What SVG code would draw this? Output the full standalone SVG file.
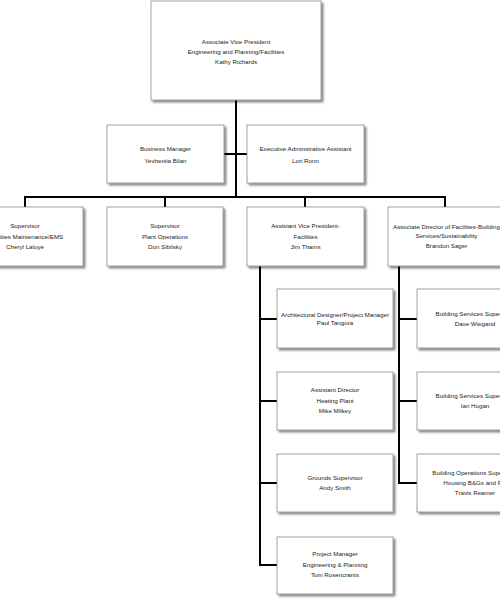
<svg xmlns="http://www.w3.org/2000/svg" width="500" height="600" viewBox="0 0 500 600">
<defs>
<filter id="sh" x="-10%" y="-10%" width="130%" height="130%">
<feGaussianBlur in="SourceAlpha" stdDeviation="0.8"/>
<feOffset dx="1.5" dy="2" result="o"/>
<feComponentTransfer><feFuncA type="linear" slope="0.5"/></feComponentTransfer>
<feMerge><feMergeNode/><feMergeNode in="SourceGraphic"/></feMerge>
</filter>
</defs>
<style>
.box{fill:#fff;stroke:#8a8a8a;stroke-width:0.8;filter:url(#sh)}
.t{font-family:"Liberation Sans",Arial,sans-serif;font-size:6.2px;fill:#222;text-anchor:middle}
.c{stroke:#000;stroke-width:2;fill:none}
</style>
<rect width="500" height="600" fill="#fff"/>
<g id="connectors">
<path class="c" d="M236,100 V197"/>
<path class="c" d="M224,154 H247"/>
<path class="c" d="M25,207 V197 H445 V207"/>
<path class="c" d="M165,197 V207"/>
<path class="c" d="M305,197 V207"/>
<path class="c" d="M260,266 V565 H277"/>
<path class="c" d="M260,319 H277"/>
<path class="c" d="M260,401 H277"/>
<path class="c" d="M260,483 H277"/>
<path class="c" d="M399,266 V483 H417"/>
<path class="c" d="M399,319 H417"/>
<path class="c" d="M399,401 H417"/>
</g>
<g id="avp">
<rect class="box" x="151" y="1" width="170" height="99"/>
<text class="t" x="236" y="44">Associate Vice President</text>
<text class="t" x="236" y="54">Engineering and Planning/Facilities</text>
<text class="t" x="236" y="64">Kathy Richards</text>
</g>
<g id="business-manager">
<rect class="box" x="107" y="125" width="117" height="58"/>
<text class="t" x="165.500" y="151">Business Manager</text>
<text class="t" x="165.500" y="163">Yevheniia Bilan</text>
</g>
<g id="exec-assistant">
<rect class="box" x="247" y="125" width="117" height="58"/>
<text class="t" x="305.500" y="151">Executive Adminstrative Assistant</text>
<text class="t" x="305.500" y="163">Lori Ronn</text>
</g>
<g id="sup-facilities">
<rect class="box" x="-33" y="207" width="116" height="59"/>
<text class="t" x="25" y="228">Supervisor</text>
<text class="t" x="25" y="239">Facilities Maintenance/EMS</text>
<text class="t" x="25" y="249">Cheryl Laloye</text>
</g>
<g id="sup-plant">
<rect class="box" x="107" y="207" width="116" height="59"/>
<text class="t" x="165" y="228">Supervisor</text>
<text class="t" x="165" y="239">Plant Operations</text>
<text class="t" x="165" y="249">Don Sibilsky</text>
</g>
<g id="avp-facilities">
<rect class="box" x="247" y="207" width="117" height="59"/>
<text class="t" x="305.500" y="228">Assistant Vice President-</text>
<text class="t" x="305.500" y="239">Facilities</text>
<text class="t" x="305.500" y="249">Jim Thams</text>
</g>
<g id="assoc-director">
<rect class="box" x="388" y="207" width="117" height="59"/>
<text class="t" x="446.500" y="229">Associate Director of Facilities-Building</text>
<text class="t" x="446.500" y="238">Services/Sustainability</text>
<text class="t" x="446.500" y="248">Brandon Sager</text>
</g>
<g id="arch-designer">
<rect class="box" x="277" y="289" width="116" height="59"/>
<text class="t" x="335" y="317">Architectural Designer/Project Manager</text>
<text class="t" x="335" y="325">Paul Tangora</text>
</g>
<g id="heating-plant">
<rect class="box" x="277" y="372" width="116" height="58"/>
<text class="t" x="335" y="392">Assistant Director</text>
<text class="t" x="335" y="403">Heating Plant</text>
<text class="t" x="335" y="413">Mike Milkey</text>
</g>
<g id="grounds">
<rect class="box" x="277" y="454" width="116" height="58"/>
<text class="t" x="335" y="480">Grounds Supervisor</text>
<text class="t" x="335" y="490">Andy Smith</text>
</g>
<g id="project-manager">
<rect class="box" x="277" y="537" width="116" height="57"/>
<text class="t" x="335" y="556">Project Manager</text>
<text class="t" x="335" y="567">Engineering &amp; Planning</text>
<text class="t" x="335" y="577">Tom Rosencrants</text>
</g>
<g id="bs-wiegand">
<rect class="box" x="417" y="289" width="116" height="59"/>
<text class="t" x="475" y="316">Building Services Supervisor</text>
<text class="t" x="475" y="326">Dave Wiegand</text>
</g>
<g id="bs-hogan">
<rect class="box" x="417" y="372" width="116" height="58"/>
<text class="t" x="475" y="398">Building Services Supervisor</text>
<text class="t" x="475" y="408">Ian Hogan</text>
</g>
<g id="bo-reamer">
<rect class="box" x="417" y="454" width="116" height="58"/>
<text class="t" x="475" y="475">Building Operations Supervisor</text>
<text class="t" x="475" y="485">Housing B&amp;Gs and FM</text>
<text class="t" x="475" y="495">Travis Reamer</text>
</g>
</svg>
